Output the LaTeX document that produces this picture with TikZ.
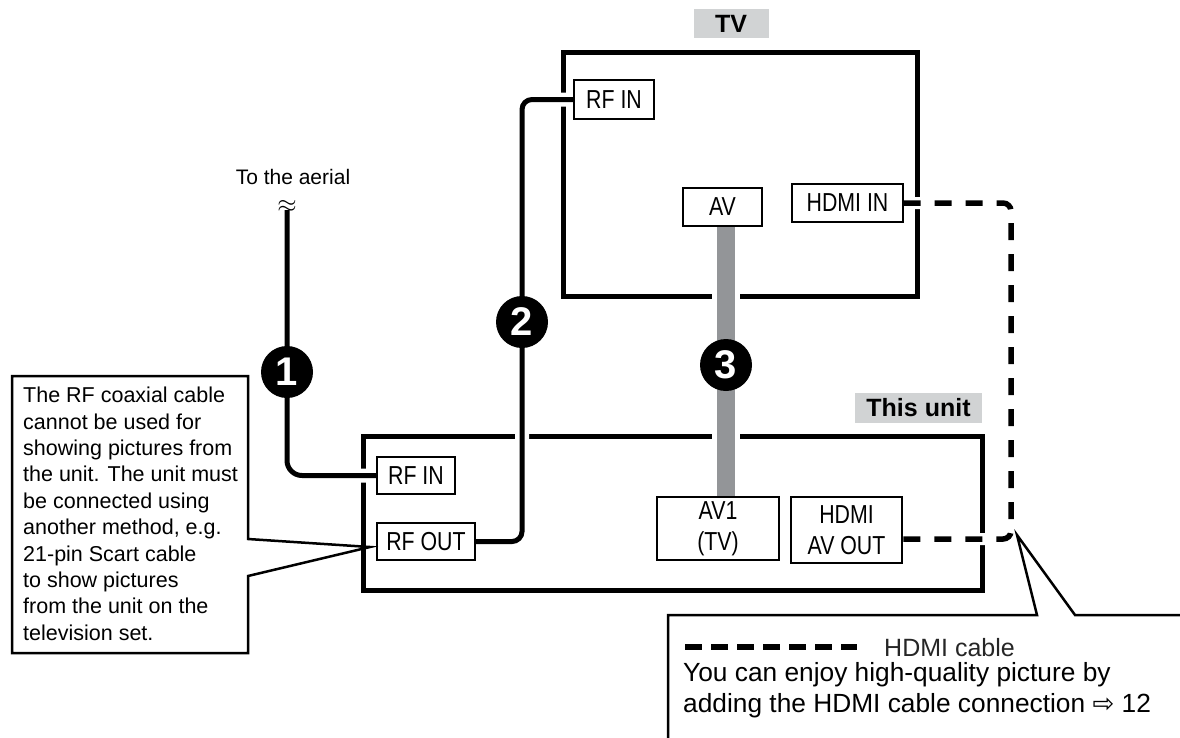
\documentclass[tikz,border=0pt]{standalone}
\usepackage{fontspec}
\setmainfont{Liberation Sans}
\newfontfamily\portfont[FakeStretch=0.82]{Liberation Sans}
\newfontfamily\symfont{DejaVu Sans}
\definecolor{cablegray}{HTML}{939598}
\definecolor{labelgray}{HTML}{D1D3D4}
\begin{document}
\begin{tikzpicture}[x=1pt,y=-1pt,
  port/.style={draw=black, line width=1.4pt, fill=white, inner sep=0pt, align=center,
    font=\portfont\fontsize{26}{31}\selectfont},
  devbox/.style={draw=black, line width=5pt, inner sep=0pt},
  cable/.style={draw=black, line width=5pt},
  halo/.style={draw=white, line width=14pt},
  badge/.style={circle, fill=black, minimum size=52pt, inner sep=0pt, text=white,
    font=\bfseries\fontsize{40}{40}\selectfont},
  tag/.style={fill=labelgray, inner sep=0pt, font=\bfseries\fontsize{25}{30}\selectfont},
  hdmiline/.style={draw=black, line width=5.5pt, dash pattern=on 17pt off 14pt},
  callout/.style={draw=black, line width=2.5pt, line join=miter},
  plain/.style={inner sep=0pt, font=\fontsize{21.5}{26.4}\selectfont},
]
\useasboundingbox (0,0) rectangle (1180,737);

% device boxes
\node[devbox, minimum width=354pt, minimum height=244pt] (tv) at (740,174) {};
\node[devbox, minimum width=619pt, minimum height=154pt] (unit) at (672.5,513) {};
\node[tag, minimum width=75pt, minimum height=29pt] (tvtag) at (731,23.5) {TV};
\node[tag, minimum width=127pt, minimum height=30pt] (unittag) at (918.5,408) {This unit};

% ports (placed first as anchors, redrawn later on top)
\path
  (614,99.5)   node[port, minimum width=80pt, minimum height=39pt] (tvrfin) {RF IN}
  (722.5,207)  node[port, minimum width=79pt, minimum height=38pt] (tvav) {AV}
  (847.5,203)  node[port, minimum width=111pt, minimum height=38pt] (tvhdmi) {HDMI IN}
  (416,475.5)  node[port, minimum width=78pt, minimum height=37pt] (urfin) {RF IN}
  (426,541.5)  node[port, minimum width=98pt, minimum height=37pt] (urfout) {RF OUT}
  (718,528.5)  node[port, minimum width=122pt, minimum height=63pt] (uav1) {AV1\\(TV)}
  (846.5,530)  node[port, minimum width=111pt, minimum height=66pt] (uhdmi) {HDMI\\AV OUT};

% key coordinates
\coordinate (aer) at (287,210);
\coordinate (k1) at (287,372);
\coordinate (k2) at (522,322);
\coordinate (k3) at (726,365);
\coordinate (hc) at (1011,370);
\coordinate (hout) at ([yshift=-9pt]uhdmi.east);

% cable 1
\draw[halo, rounded corners=15pt] (aer) |- (urfin.west);
\draw[cable, rounded corners=15pt] (aer) |- (urfin.west);
% cable 2
\draw[halo, rounded corners=10pt] (urfout.east) -| (k2) |- (tvrfin.west);
\draw[cable, rounded corners=10pt] (urfout.east) -| (k2) |- (tvrfin.west);
% cable 3 (scart)
\draw[draw=white, line width=28pt] (k3 |- tvav.south) -- (k3 |- uav1.north);
\draw[draw=cablegray, line width=18pt] (k3 |- tvav.south) -- (k3 |- uav1.north);
% HDMI cable
\draw[draw=white, line width=12pt, rounded corners=8pt] (tvhdmi.east) -| (hc) |- (hout);
\draw[hdmiline, rounded corners=8pt] (tvhdmi.east) -| (hc) |- (hout);

% ports on top
\path
  (614,99.5)   node[port, minimum width=80pt, minimum height=39pt] {RF IN}
  (722.5,207)  node[port, minimum width=79pt, minimum height=38pt] {AV}
  (847.5,203)  node[port, minimum width=111pt, minimum height=38pt] {HDMI IN}
  (416,475.5)  node[port, minimum width=78pt, minimum height=37pt] {RF IN}
  (426,541.5)  node[port, minimum width=98pt, minimum height=37pt] {RF OUT}
  (718,528.5)  node[port, minimum width=122pt, minimum height=63pt] {AV1\\(TV)}
  (846.5,530)  node[port, minimum width=111pt, minimum height=66pt] {HDMI\\AV OUT};

% badges
\node[badge] (b1) at (k1) {1};
\node[badge] (b2) at (k2) {2};
\node[badge] (b3) at (k3) {3};

% aerial
\node[plain, font=\fontsize{21}{25}\selectfont] (aertext) at (293,177) {To the aerial};
\node[inner sep=0pt, font=\fontsize{28}{28}\selectfont] (wave) at (287,206) {$\approx$};

% left callout
\coordinate (tip1) at (370,547);
\draw[callout, fill=white] (248,539) -- (tip1) -- (248,576) -- (248,653) -- (12,653)
  -- (12,376) -- (248,376) -- cycle;
\node[plain, anchor=north west, align=left] (note1) at (23,387)
  {The RF coaxial cable\\cannot be used for\\showing pictures from\\the unit. The unit must\\be connected using\\another method, e.g.\\21-pin Scart cable\\to show pictures\\from the unit on the\\television set.};

% bottom callout
\coordinate (tip2) at (1017,535);
\begin{scope}
\clip (0,0) rectangle (1180,737);
\draw[callout] (668,745) -- (668,615) -- (1037,615) -- (tip2) -- (1075,615) -- (1190,615);
\end{scope}
\coordinate (lg1) at (685,647);
\coordinate (lg2) at (857,647);
\draw[draw=black, line width=5.5pt, dash pattern=on 17pt off 9pt] (lg1) -- (lg2);
\node[inner sep=0pt, anchor=west, font=\fontsize{25}{30}\selectfont, text=black!85] (lgtext) at (884,648) {HDMI cable};
\node[inner sep=0pt, anchor=north west, align=left, font=\fontsize{26.3}{31}\selectfont] (note2) at (683,662)
  {You can enjoy high-quality picture by\\adding the HDMI cable connection {\symfont\fontsize{26}{26}\selectfont ⇨} 12};
\end{tikzpicture}
\end{document}
